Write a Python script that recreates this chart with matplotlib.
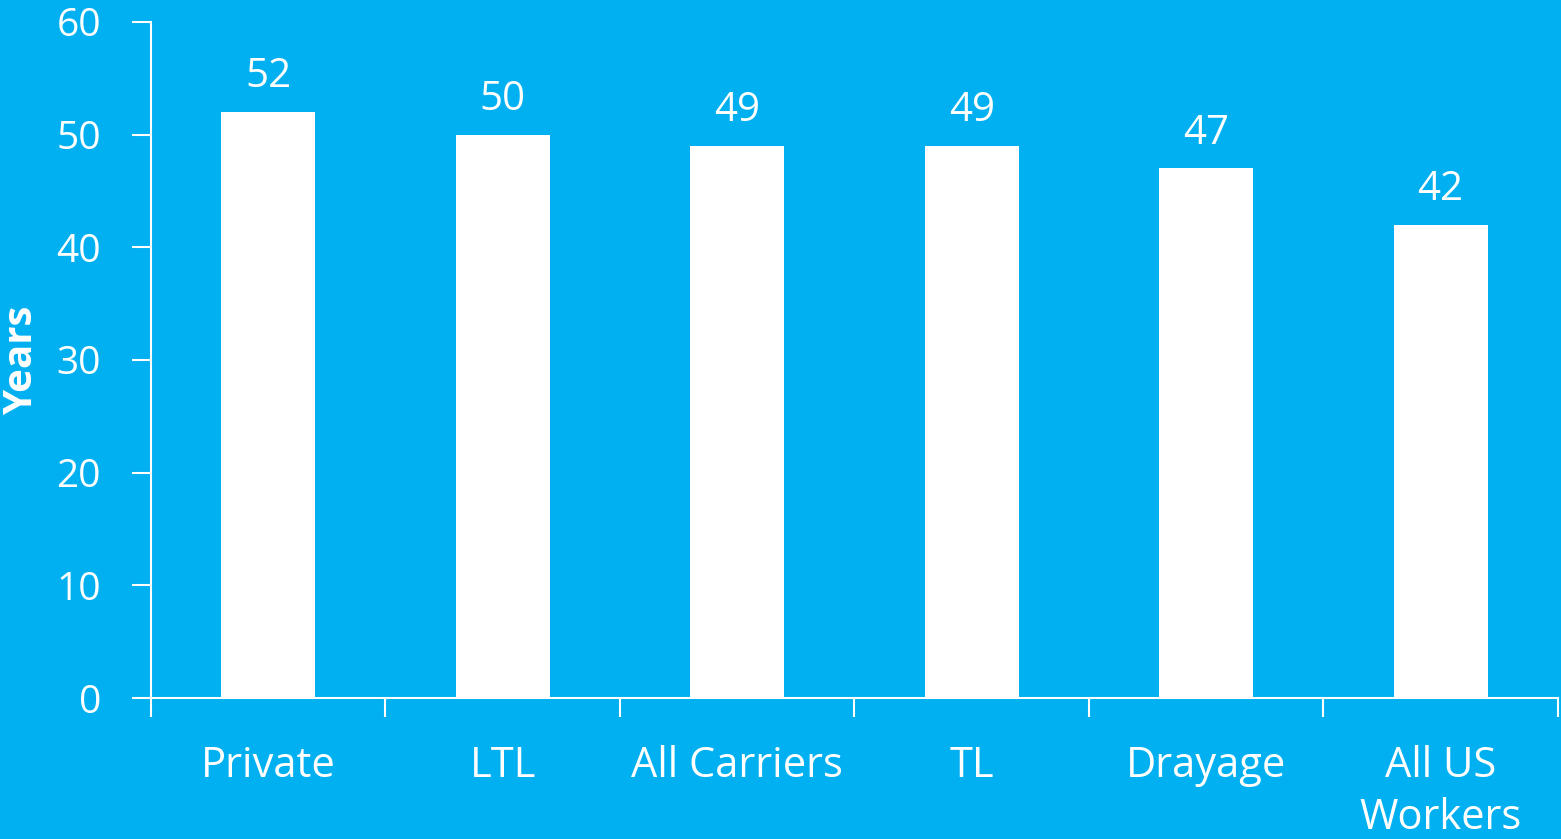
import matplotlib
matplotlib.use("Agg")
import matplotlib.pyplot as plt
import numpy as np

categories = ["Private", "LTL", "All Carriers", "TL", "Drayage", "All US\nWorkers"]
years = [52, 50, 49, 49, 47, 42]

bg = "#00B0F0"
plt.rcParams["font.family"] = ["Open Sans", "DejaVu Sans"]

fig = plt.figure(figsize=(15.61, 8.39), dpi=100, facecolor=bg)
ax = fig.add_axes([0.0967, 0.168, 0.9013, 0.806])
ax.set_facecolor(bg)

x = np.arange(len(categories))
bars = ax.bar(x, years, width=0.4, color="white", zorder=3)

for xi, v in zip(x, years):
    ax.text(xi, v + 1.3, str(v), ha="center", va="bottom", color="white", fontsize=29)

ax.set_xlim(-0.5, len(categories) - 0.5)
ax.set_ylim(0, 60)
ax.set_yticks(range(0, 61, 10))

# ticks at category boundaries
ax.set_xticks(np.arange(-0.5, len(categories), 1.0))
ax.set_xticklabels([])
ax.set_xticks(x, minor=True)
ax.set_xticklabels(categories, minor=True, fontsize=30, color="white", linespacing=1.3)
ax.tick_params(axis="x", which="minor", length=0, pad=34)
ax.tick_params(axis="x", which="major", length=14, width=1.5, color="white")
ax.tick_params(axis="y", length=14, width=1.5, color="white", labelcolor="white",
               labelsize=28, pad=22)

for side in ["top", "right"]:
    ax.spines[side].set_visible(False)
for side in ["left", "bottom"]:
    ax.spines[side].set_color("white")
    ax.spines[side].set_linewidth(1.5)

ax.set_ylabel("Years", fontsize=29, fontweight="bold", color="white")
ax.yaxis.set_label_coords(-0.078, 0.5)

fig.savefig("out.png", dpi=100, facecolor=bg)
